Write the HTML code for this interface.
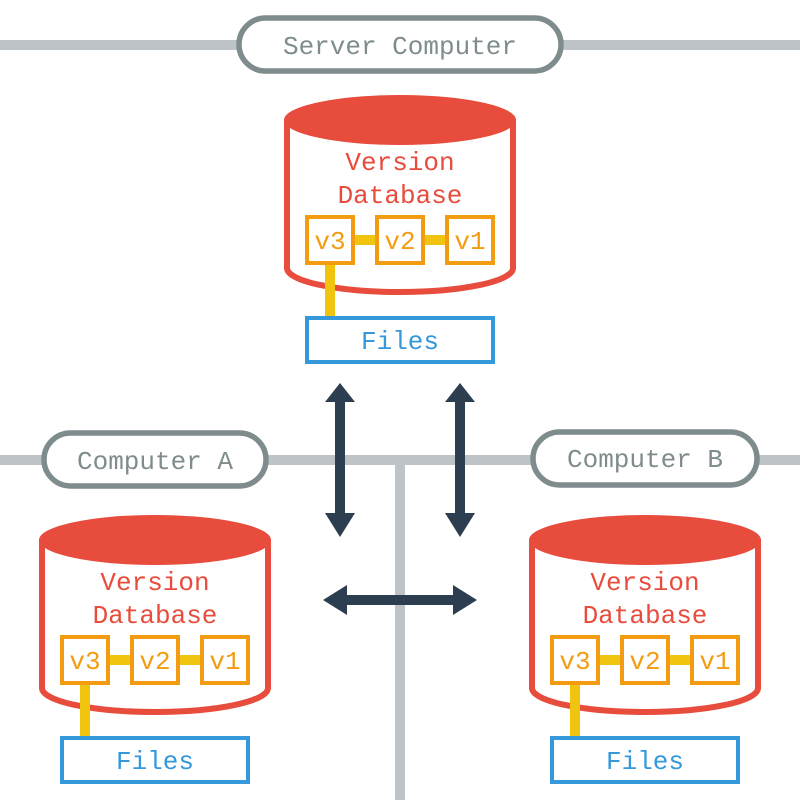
<!DOCTYPE html>
<html><head><meta charset="utf-8"><style>
html,body{margin:0;padding:0;background:#fff;}
svg{display:block;}
text{font-family:"Liberation Mono",monospace;font-size:26px;}
</style></head><body>
<svg width="800" height="800" viewBox="0 0 800 800" xmlns="http://www.w3.org/2000/svg">
<defs>
<g id="db">
  <path d="M287,120 L287,268 A113,24 0 0 0 513,268 L513,120" fill="#fff" stroke="#e74c3c" stroke-width="6"/>
  <ellipse cx="400" cy="120" rx="116" ry="25" fill="#e74c3c"/>
  <text x="400" y="170" text-anchor="middle" fill="#e74c3c">Version</text>
  <text x="400" y="203" text-anchor="middle" fill="#e74c3c">Database</text>
  <rect x="353" y="235" width="25" height="10" fill="#f1c40f"/>
  <rect x="423" y="235" width="25" height="10" fill="#f1c40f"/>
  <rect x="325" y="263" width="10" height="55" fill="#f1c40f"/>
  <rect x="307" y="217" width="46" height="46" fill="#fff" stroke="#f39c12" stroke-width="4"/>
  <rect x="377" y="217" width="46" height="46" fill="#fff" stroke="#f39c12" stroke-width="4"/>
  <rect x="447" y="217" width="46" height="46" fill="#fff" stroke="#f39c12" stroke-width="4"/>
  <text x="330" y="249" text-anchor="middle" fill="#f39c12">v3</text>
  <text x="400" y="249" text-anchor="middle" fill="#f39c12">v2</text>
  <text x="470" y="249" text-anchor="middle" fill="#f39c12">v1</text>
  <rect x="307" y="318" width="186" height="44" fill="#fff" stroke="#3498db" stroke-width="4"/>
  <text x="400" y="349" text-anchor="middle" fill="#3498db">Files</text>
</g>
</defs>
<rect x="0" y="40" width="800" height="10" fill="#bdc3c7"/>
<rect x="0" y="455" width="800" height="10" fill="#bdc3c7"/>
<rect x="395" y="455" width="10" height="345" fill="#bdc3c7"/>
<rect x="239" y="18" width="322" height="53" rx="26.5" fill="#fff" stroke="#7f8c8d" stroke-width="5.5"/>
<text x="400" y="54" text-anchor="middle" fill="#7f8c8d">Server Computer</text>
<rect x="44" y="433" width="222" height="53" rx="26.5" fill="#fff" stroke="#7f8c8d" stroke-width="5.5"/>
<text x="155" y="469" text-anchor="middle" fill="#7f8c8d">Computer A</text>
<rect x="533" y="432" width="224" height="53" rx="26.5" fill="#fff" stroke="#7f8c8d" stroke-width="5.5"/>
<text x="645" y="467" text-anchor="middle" fill="#7f8c8d">Computer B</text>
<use href="#db"/>
<use href="#db" transform="translate(-245,420)"/>
<use href="#db" transform="translate(245,420)"/>
<g fill="#2c3e50">
  <path d="M340,383 L355,402 L345,402 L345,513 L355,513 L340,537 L325,513 L335,513 L335,402 L325,402 Z"/>
  <path d="M460,383 L475,402 L465,402 L465,513 L475,513 L460,537 L445,513 L455,513 L455,402 L445,402 Z"/>
  <path d="M323,600 L347,585 L347,595 L453,595 L453,585 L477,600 L453,615 L453,605 L347,605 L347,615 Z"/>
</g>
</svg>
</body></html>
